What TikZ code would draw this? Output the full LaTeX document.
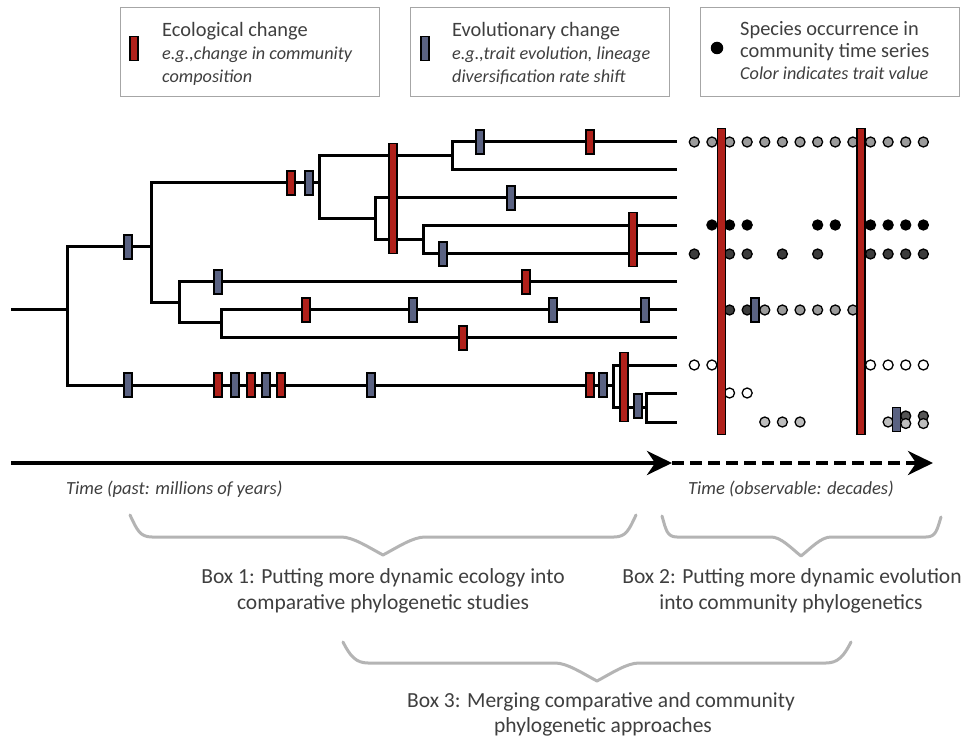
\documentclass[tikz,border=0pt]{standalone}
\usepackage{fontspec}
\setmainfont{Carlito}
\usetikzlibrary{arrows.meta}
\definecolor{ecored}{HTML}{B0211B}
\definecolor{evoblue}{HTML}{5A6282}
\definecolor{boxgray}{HTML}{A6A6A6}
\definecolor{bracegray}{HTML}{B4B4B4}
\definecolor{txtgray}{HTML}{3F3F3F}
\definecolor{dotA}{HTML}{9B9B9B}
\definecolor{dotB}{HTML}{3C3C3C}
\definecolor{dotC}{HTML}{BDBDBD}
\definecolor{dotD}{HTML}{555555}
\begin{document}
\begin{tikzpicture}[x=1pt,y=-1pt,
  br/.style={line width=3pt, line join=miter},
  mk/.style={rectangle, draw=black, line width=1.4pt, inner sep=0pt, minimum width=8pt, minimum height=24pt},
  eco/.style={mk, fill=ecored},
  evo/.style={mk, fill=evoblue},
  dot/.style={circle, draw=black, line width=1.3pt, inner sep=0pt, minimum size=10pt},
  lbox/.style={draw=boxgray, line width=1pt, minimum width=259pt, minimum height=89pt, inner sep=0pt},
  ltitle/.style={anchor=base west, inner sep=0pt, text=txtgray, font=\fontsize{20.4}{23}\selectfont},
  litalic/.style={anchor=base west, inner sep=0pt, text=txtgray, font=\fontsize{18.2}{22}\selectfont\itshape},
  boxtxt/.style={anchor=base, inner sep=0pt, text=txtgray, font=\fontsize{21.5}{24}\selectfont},
  timetxt/.style={anchor=base west, inner sep=0pt, text=txtgray, font=\fontsize{18.5}{22}\selectfont\itshape},
  bracepath/.style={draw=bracegray, line width=3pt, line join=round, line cap=round},
  ]
\fill[white] (0,0) rectangle (962,738);
\useasboundingbox (0,0) rectangle (962,738);

% legend boxes
\node[lbox] (box1) at (249.5,52.5) {};
\node[lbox] (box2) at (539.5,52.5) {};
\node[lbox] (box3) at (829.5,52.5) {};
\node[eco] (lg1) at (134,48.5) {};
\node[ltitle] (l1a) at (162,37) {Ecological change};
\node[litalic] (l1b) at (162,60) {e.g.,change in community};
\node[litalic] (l1c) at (162,83) {composition};
\node[evo] (lg2) at (425,48.5) {};
\node[ltitle] (l2a) at (452,37) {Evolutionary change};
\node[litalic] (l2b) at (452,60) {e.g.,trait evolution, lineage};
\node[litalic] (l2c) at (452,83) {diversification rate shift};
\node[circle, fill=black, minimum size=12.5pt, inner sep=0pt] (lg3) at (717,48) {};
\node[ltitle] (l3a) at (740,36) {Species occurrence in};
\node[ltitle] (l3b) at (740,58) {community time series};
\node[litalic] (l3c) at (740,80) {Color indicates trait value};

% tree coordinates
\coordinate (r0) at (11,310);
\coordinate (n0) at (67,310);
\coordinate (n1) at (151,247);
\coordinate (n2) at (319,183);
\coordinate (n3) at (452,156);
\coordinate (n4) at (375,219);
\coordinate (n5) at (423,240);
\coordinate (n6) at (179,303);
\coordinate (n7) at (221,323);
\coordinate (n8) at (613,385);
\coordinate (n9) at (646,407);
\coordinate (t1) at (677,142);
\coordinate (t2) at (677,170);
\coordinate (t3) at (677,198);
\coordinate (t4) at (677,226);
\coordinate (t5) at (677,254);
\coordinate (t6) at (677,282);
\coordinate (t7) at (677,310);
\coordinate (t8) at (677,338);
\coordinate (t9) at (677,365);
\coordinate (t10) at (677,393);
\coordinate (t11) at (677,422);

\draw[br] (r0) -- (n0);
\draw[br] (n1) -| (n0) |- (n8);
\draw[br] (n2) -| (n1) |- (n6);
\draw[br] (n3) -| (n2) |- (n4);
\draw[br] (t1) -| (n3) |- (t2);
\draw[br] (t3) -| (n4) |- (n5);
\draw[br] (t4) -| (n5) |- (t5);
\draw[br] (t6) -| (n6) |- (n7);
\draw[br] (t7) -| (n7) |- (t8);
\draw[br] (t9) -| (n8) |- (n9);
\draw[br] (t10) -| (n9) |- (t11);

% markers on tree
\node[evo] (e1) at (128,247) {};
\node[eco] (c1) at (291,183) {};
\node[evo] (e2) at (309,183) {};
\node[evo] (e3) at (480,142) {};
\node[eco] (c2) at (590,142) {};
\node[evo] (e4) at (511,198) {};
\node[evo] (e5) at (443,254) {};
\node[evo] (e6) at (218,282) {};
\node[eco] (c3) at (526,282) {};
\node[eco] (c4) at (306,310) {};
\node[evo] (e7) at (413,310) {};
\node[evo] (e8) at (553,310) {};
\node[evo] (e9) at (645,310) {};
\node[eco] (c5) at (463,338) {};
\node[evo] (e10) at (128,385) {};
\node[eco] (c6) at (218,385) {};
\node[evo] (e11) at (235,385) {};
\node[eco] (c7) at (251,385) {};
\node[evo] (e12) at (266,385) {};
\node[eco] (c8) at (281,385) {};
\node[evo] (e13) at (371,385) {};
\node[eco] (c9) at (590,385) {};
\node[evo] (e14) at (603,385) {};
\node[evo] (e15) at (638,406) {};
\node[eco, minimum height=110pt] (big1) at (393,198.5) {};
\node[eco, minimum height=54pt] (big2) at (633,239.5) {};
\node[eco, minimum height=69pt] (big3) at (624,387) {};

% community time series dots
\foreach \i in {0,...,13} \node[dot, fill=dotA] (da\i) at ({694.3+17.62*\i},142) {};
\foreach \i in {1,2,3,7,8,10,11,12,13} \node[dot, fill=black] (db\i) at ({694.3+17.62*\i},225) {};
\foreach \i in {0,2,3,5,7,10,11,12,13} \node[dot, fill=dotB] (dc\i) at ({694.3+17.62*\i},254) {};
\foreach \i in {2,3} \node[dot, fill=dotB] (dd\i) at ({694.3+17.62*\i},310) {};
\foreach \i in {4,...,9} \node[dot, fill=dotA] (de\i) at ({694.3+17.62*\i},310) {};
\foreach \i in {0,1,10,11,12,13} \node[dot, fill=white] (df\i) at ({694.3+17.62*\i},365) {};
\foreach \i in {2,3} \node[dot, fill=white] (dg\i) at ({694.3+17.62*\i},393) {};
\foreach \i in {4,5,6,11} \node[dot, fill=dotC] (dh\i) at ({694.3+17.62*\i},422) {};
\foreach \i in {12,13} \node[dot, fill=dotD] (di\i) at ({694.3+17.62*\i},416) {};
\foreach \i in {12,13} \node[dot, fill=dotC] (dj\i) at ({694.3+17.62*\i},423.5) {};
\node[evo] (e16) at (755,310) {};
\node[evo] (e17) at (896.7,419.5) {};
\node[eco, minimum height=306pt] (bar1) at (721.7,281.5) {};
\node[eco, minimum height=306pt] (bar2) at (861,281.5) {};

% time arrows
\coordinate (ta0) at (11,463);
\coordinate (ta1) at (672,463);
\coordinate (ta2) at (933,463);
\draw[line width=4pt, -{Stealth[length=25pt,width=24pt]}] (ta0) -- (ta1);
\draw[line width=4pt, dash pattern=on 12pt off 6pt, -{Stealth[length=25pt,width=24pt]}] (ta1) -- (ta2);
\node[timetxt] (tl1) at (66,494) {Time (past: millions of years)};
\node[timetxt] (tl2) at (688,494) {Time (observable: decades)};

% braces
\draw[bracepath] (130,515) .. controls (137,530) and (140,537) .. (152,537) -- (341,537) .. controls (353,537) and (368,547) .. (383,555) .. controls (398,547) and (413,537) .. (425,537) -- (614,537) .. controls (626,537) and (629,530) .. (636,515);
\draw[bracepath] (662,516) .. controls (666,530) and (667,537) .. (677,537) -- (771,537) .. controls (781,537) and (791,548) .. (801,556) .. controls (811,548) and (821,537) .. (831,537) -- (926,537) .. controls (936,537) and (937,530) .. (941,517);
\draw[bracepath] (343,642) .. controls (350,656) and (356,663) .. (368,663) -- (555,663) .. controls (567,663) and (582,673) .. (597,681) .. controls (612,673) and (627,663) .. (639,663) -- (826,663) .. controls (838,663) and (844,656) .. (851,642);

% box texts
\node[boxtxt] (b1a) at (383,583) {Box 1: Putting more dynamic ecology into};
\node[boxtxt] (b1b) at (383,609) {comparative phylogenetic studies};
\node[boxtxt] (b2a) at (792,583) {Box 2: Putting more dynamic evolution};
\node[boxtxt] (b2b) at (791,609) {into community phylogenetics};
\node[boxtxt] (b3a) at (601,707) {Box 3: Merging comparative and community};
\node[boxtxt] (b3b) at (603,732) {phylogenetic approaches};
\end{tikzpicture}
\end{document}
